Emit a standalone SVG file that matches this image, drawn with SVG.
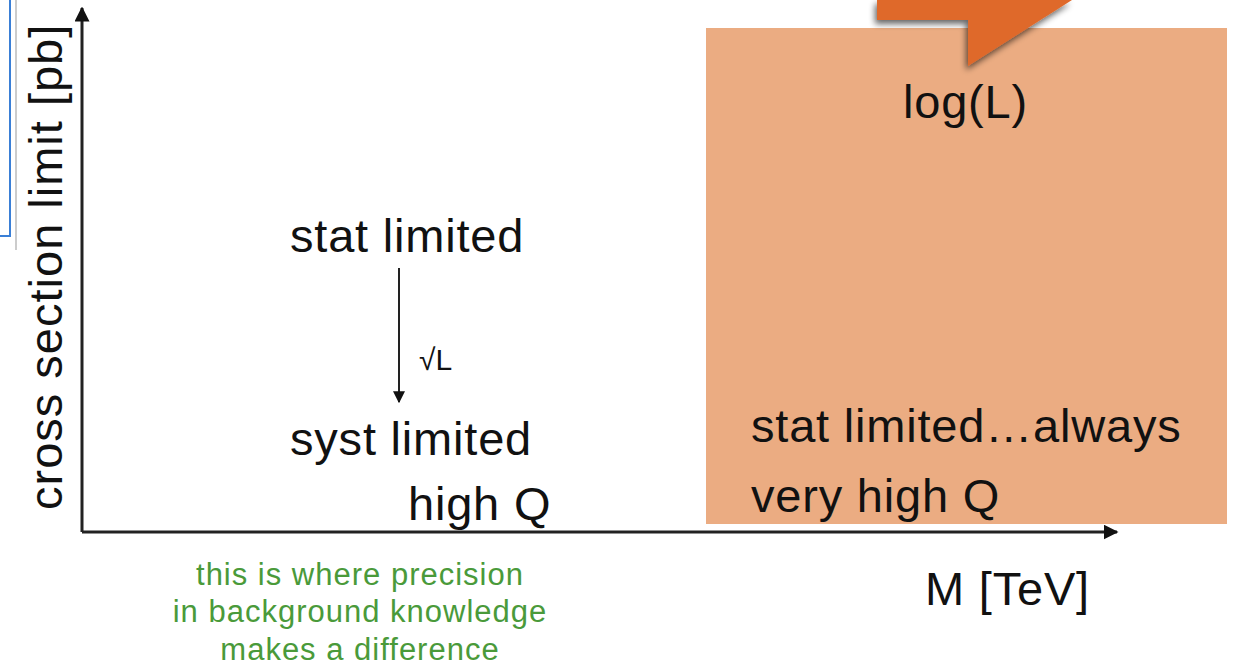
<svg xmlns="http://www.w3.org/2000/svg" width="1234" height="672" viewBox="0 0 1234 672">
<defs>
<style>
.t{font-family:"Liberation Sans",Arial,sans-serif;fill:#111;}
.big{font-size:47px;letter-spacing:0.8px;}
.g{font-family:"Liberation Sans",Arial,sans-serif;fill:#4a9a3a;font-size:31px;letter-spacing:1px;text-anchor:middle;}
.ax{stroke:#222;stroke-width:3;fill:none;}
</style>
<marker id="ah" viewBox="0 0 10 10" refX="9" refY="5" markerWidth="5" markerHeight="5" orient="auto" markerUnits="strokeWidth">
<path d="M0,0 L10,5 L0,10 z" fill="#111"/>
</marker>
<marker id="ah2" viewBox="0 0 10 10" refX="9" refY="5" markerWidth="6" markerHeight="6" orient="auto" markerUnits="strokeWidth">
<path d="M0,0 L10,5 L0,10 z" fill="#111"/>
</marker>
<filter id="sh" x="-20%" y="-20%" width="150%" height="150%">
<feGaussianBlur in="SourceAlpha" stdDeviation="3"/>
<feOffset dx="-2" dy="4" result="b"/>
<feComponentTransfer><feFuncA type="linear" slope="0.6"/></feComponentTransfer>
<feMerge><feMergeNode/><feMergeNode in="SourceGraphic"/></feMerge>
</filter>
</defs>
<rect width="1234" height="672" fill="#fff"/>
<g id="frame-edge">
<path d="M0,236 L10,236 L10,0" fill="none" stroke="#3a7fd6" stroke-width="2"/>
<line x1="16" y1="0" x2="16" y2="250" stroke="#ccc" stroke-width="2"/>
</g>
<g id="region">
<rect x="706" y="28" width="521" height="496" fill="#ebac82"/>
</g>
<g id="callout">
<polygon points="877,0 877,20 968,20 968,66 1072,0" fill="#df692b" filter="url(#sh)"/>
</g>
<g id="connectors">
<line class="ax" x1="82" y1="532" x2="82" y2="8" marker-end="url(#ah)"/>
<line class="ax" x1="82" y1="532" x2="1117" y2="532" marker-end="url(#ah)"/>
<line x1="399" y1="268" x2="399" y2="402" stroke="#222" stroke-width="2" marker-end="url(#ah2)"/>
</g>
<g id="axis-labels">
<text class="t big" transform="translate(62,510) rotate(-90)" style="letter-spacing:1px">cross section limit [pb]</text>
<text class="t big" x="925" y="605">M [TeV]</text>
</g>
<g id="log-label"><text class="t big" x="903" y="118">log(L)</text></g>
<g id="stat"><text class="t big" x="290" y="252">stat limited</text></g>
<g id="sqrtL"><text class="t" x="419" y="370" style="font-size:30px">√L</text></g>
<g id="syst"><text class="t big" x="290" y="455">syst limited</text></g>
<g id="highQ"><text class="t big" x="408" y="520">high Q</text></g>
<g id="stat-always"><text class="t big" x="751" y="442">stat limited…always</text></g>
<g id="veryhighQ"><text class="t big" x="751" y="512">very high Q</text></g>
<g id="note">
<text class="g" x="360" y="585">this is where precision</text>
<text class="g" x="360" y="622">in background knowledge</text>
<text class="g" x="360" y="660">makes a difference</text>
</g>
</svg>
